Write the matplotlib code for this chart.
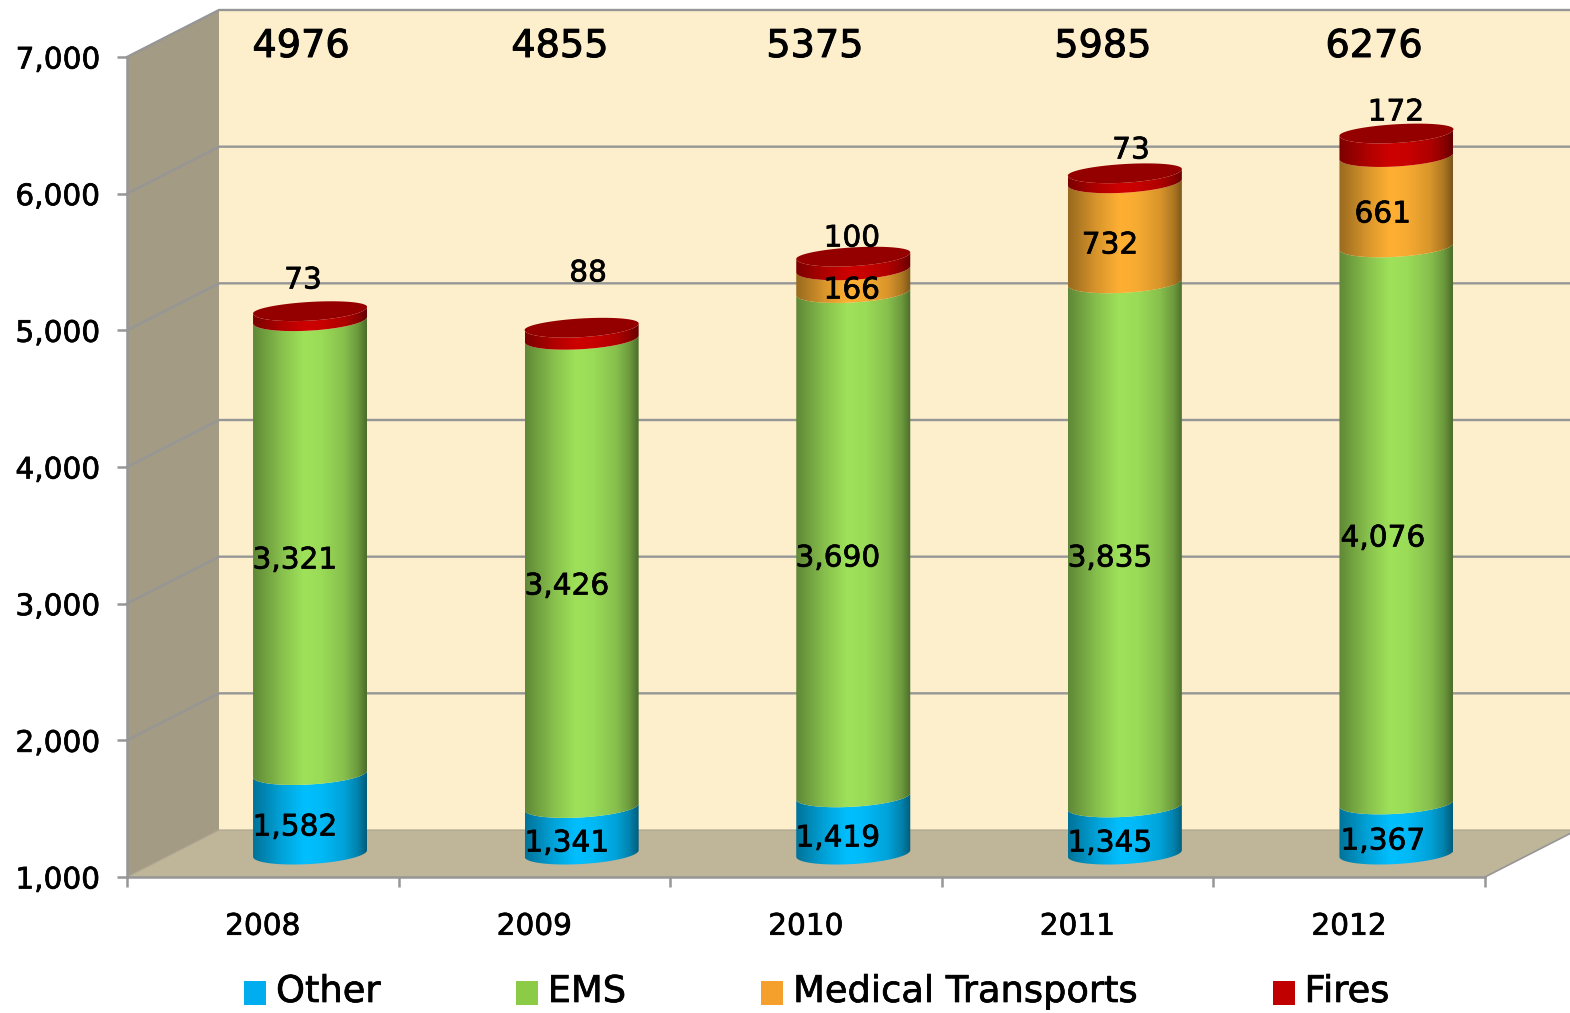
import numpy as np
import matplotlib
matplotlib.use('Agg')
import matplotlib.pyplot as plt
import matplotlib.patheffects as pe
from matplotlib.colors import LinearSegmentedColormap, to_rgb
from matplotlib.legend_handler import HandlerPatch
from matplotlib.patches import Patch, PathPatch, Polygon, Rectangle
from matplotlib.path import Path

plt.rcParams['font.family'] = ['DejaVu Sans']

years = ['2008', '2009', '2010', '2011', '2012']
other = [1582, 1341, 1419, 1345, 1367]
ems = [3321, 3426, 3690, 3835, 4076]
transports = [0, 0, 166, 732, 661]
fires = [73, 88, 100, 73, 172]
totals = [4976, 4855, 5375, 5985, 6276]
y_ticks = [1000, 2000, 3000, 4000, 5000, 6000, 7000]

series_names = ['Other', 'EMS', 'Medical Transports', 'Fires']
series_values = [other, ems, transports, fires]
side_colors = ['#00BFFF', '#9FE25A', '#FFB033', '#CE0000']
legend_colors = ['#00AEEF', '#8CCB45', '#F5A02C', '#C00000']
top_color = '#940000'

# label spots in reference pixels, one row per year, same order as the series
label_x = [[295, 295, None, 303], [567, 567, None, 588], [838, 838, 852, 852],
           [1110, 1110, 1110, 1131], [1383, 1383, 1383, 1396]]
label_y = [[824, 557, None, 277], [840, 583, None, 270], [835, 555, 287, 235],
           [840, 555, 242, 147], [838, 535, 211, 109]]
total_x = [301, 560, 815, 1103, 1374]
total_y = 43

W, H = 1570, 1013
LEFT, RIGHT, BASE, TOP = 127, 1485, 877, 57
PX_X = (RIGHT - LEFT) / 5.0
PX_Y = (BASE - TOP) / 6000.0
GREY = '#969696'


def px(x, y):
    """reference pixel -> data coordinates"""
    return (x - LEFT) / PX_X, 1000 + (BASE - y) / PX_Y


def low_swatch(legend, orig_handle, xdescent, ydescent, width, height, fontsize):
    # the swatches sit a little below the text in the original
    return Rectangle((-xdescent, -ydescent - 2.9), width, height)


fig = plt.figure(figsize=(W / 100, H / 100), dpi=100, facecolor='white')
ax = fig.add_axes([LEFT / W, 1 - BASE / H, (RIGHT - LEFT) / W, (BASE - TOP) / H])
ax.set_facecolor('none')

# 3d box depth in data units
dx = 92 / PX_X
dy = 47 / PX_Y

# walls
ax.add_patch(Polygon([(dx, 1000 + dy), (5 + dx, 1000 + dy), (5 + dx, 7000 + dy), (dx, 7000 + dy)],
                     fc='#FDEFCC', ec='none', clip_on=False, zorder=1))
ax.add_patch(Polygon([(0, 1000), (dx, 1000 + dy), (dx, 7000 + dy), (0, 7000)],
                     fc='#A39B83', ec='none', clip_on=False, zorder=1))
ax.add_patch(Polygon([(0, 1000), (5, 1000), (5 + dx, 1000 + dy), (dx, 1000 + dy)],
                     fc='#BFB599', ec='none', clip_on=False, zorder=1))

# gridlines on the back and side wall, the floor edge is much fainter
for v in y_ticks:
    if v == 1000:
        ax.plot([0, dx, 5 + dx], [v, v + dy, v + dy], color='#ABA38C', lw=0.8, clip_on=False, zorder=2)
    else:
        ax.plot([0, dx, 5 + dx], [v, v + dy, v + dy], color=GREY, lw=1.7, clip_on=False, zorder=2)
ax.plot([5, 5 + dx], [1000, 1000 + dy], color=GREY, lw=1.2, clip_on=False, zorder=2)

# cylinders
a = 57 / PX_X
b = 10.5 / PX_Y
tilt = 3.3 / PX_Y
t = np.linspace(np.pi, 2 * np.pi, 60)
arc_x = a * np.cos(t)
arc_y = b * np.sin(t) + tilt * np.cos(t)
t2 = np.linspace(0, 2 * np.pi, 120)
ring_x = a * np.cos(t2)
ring_y = np.where(np.sin(t2) > 0, 0.78 * b, b) * np.sin(t2) + tilt * np.cos(t2)
stops = [0, 0.08, 0.25, 0.45, 0.6, 0.8, 0.92, 1]
shade = [0.6, 0.68, 0.85, 1, 0.97, 0.85, 0.68, 0.48]

for i in range(len(years)):
    cx = i + 0.5 + (dx + 2.5 / PX_X) / 2
    total = 0  # stack counts from zero, the axis just starts at 1000
    for s, values in enumerate(series_values):
        v = values[i]
        if v == 0:
            continue
        y0 = max(total, 1000) + dy / 2
        total += v
        y1 = total + dy / 2
        verts = np.concatenate([np.column_stack([cx + arc_x, y0 + arc_y]),
                                np.column_stack([cx + arc_x[::-1], y1 + arc_y[::-1]])])
        c = np.array(to_rgb(side_colors[s]))
        cmap = LinearSegmentedColormap.from_list('side', [(p, tuple(c * k)) for p, k in zip(stops, shade)])
        im = ax.imshow(np.linspace(0, 1, 256).reshape(1, -1), cmap=cmap, aspect='auto', zorder=3 + s * 0.1,
                       extent=[cx - a, cx + a, y0 - 2 * b, y1 + 2 * b], interpolation='bilinear')
        im.set_clip_path(PathPatch(Path(np.vstack([verts, verts[0]])), transform=ax.transData))
    ax.add_patch(Polygon(np.column_stack([cx + ring_x, total + dy / 2 + ring_y]),
                         fc=top_color, ec='none', zorder=4))

ax.set_xlim(0, 5)
ax.set_ylim(1000, 7000)

# text in the original is a bit heavier than DejaVu regular
heavy = [pe.withStroke(linewidth=0.5, foreground='black')]
heavy_big = [pe.withStroke(linewidth=0.7, foreground='black')]

# axes
for side in ['top', 'right']:
    ax.spines[side].set_visible(False)
for side in ['left', 'bottom']:
    ax.spines[side].set_color(GREY)
    ax.spines[side].set_linewidth(1.8)
    ax.spines[side].set_zorder(5)
ax.set_yticks(y_ticks)
ax.set_yticklabels(['{:,}'.format(v) for v in y_ticks], fontsize=21.3, path_effects=heavy)
ax.tick_params(axis='y', length=7.2, width=1.8, color=GREY, pad=12)
ax.set_xticks(range(6))
ax.set_xticklabels([])
ax.tick_params(axis='x', which='major', length=7.2, width=1.8, color=GREY)
ax.set_xticks(np.arange(5) + 0.5, minor=True)
ax.set_xticklabels(years, minor=True, fontsize=21.3, path_effects=heavy)
ax.tick_params(axis='x', which='minor', length=0, pad=25)

# value labels
for i in range(len(years)):
    for s, values in enumerate(series_values):
        if values[i] == 0:
            continue
        lx, ly = px(label_x[i][s], label_y[i][s])
        ax.text(lx, ly, '{:,}'.format(values[i]), fontsize=21.3, ha='center', va='center_baseline',
                color='black', zorder=6, clip_on=False, path_effects=heavy)
    lx, ly = px(total_x[i], total_y)
    ax.text(lx, ly, str(totals[i]), fontsize=27.5, ha='center', va='center_baseline', color='black',
            zorder=6, clip_on=False, path_effects=heavy_big)

handles = [Patch(fc=c, ec='none', label=n) for c, n in zip(legend_colors, series_names)]
leg = fig.legend(handles=handles, loc='lower left', bbox_to_anchor=(244 / W, 1 - 1010 / H), ncol=4, frameon=False,
                 fontsize=26.5, handlelength=0.6, handleheight=0.6, handletextpad=0.27, columnspacing=3.67,
                 borderpad=0, borderaxespad=0,
                 handler_map={Patch: HandlerPatch(patch_func=low_swatch)})
for txt in leg.get_texts():
    txt.set_path_effects(heavy)

fig.savefig('out.png', dpi=100)
